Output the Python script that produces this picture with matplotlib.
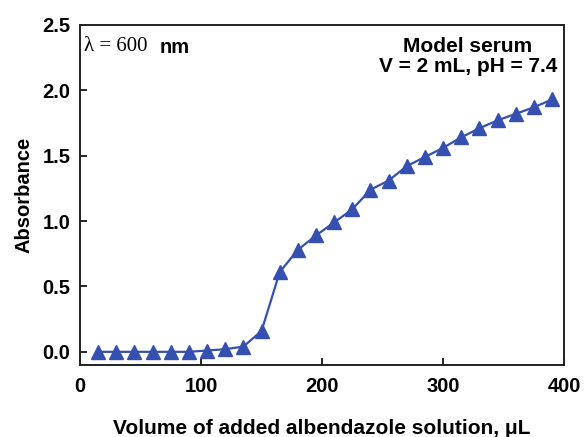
import matplotlib
matplotlib.use("Agg")
import matplotlib.pyplot as plt

plt.rcParams['font.family'] = ['Liberation Sans', 'DejaVu Sans']
plt.rcParams['font.weight'] = 'bold'

volume = [15, 30, 45, 60, 75, 90, 105, 120, 135, 150, 165, 180, 195,
          210, 225, 240, 255, 270, 285, 300, 315, 330, 345, 360, 375, 390]
absorbance = [0.00, 0.00, 0.00, 0.00, 0.00, 0.00, 0.01, 0.02, 0.04, 0.16,
              0.61, 0.78, 0.89, 0.99, 1.09, 1.24, 1.31, 1.42, 1.49, 1.56,
              1.64, 1.71, 1.77, 1.82, 1.87, 1.93]

blue = '#3550b0'

fig = plt.figure(figsize=(5.84, 4.37), dpi=100)
ax = fig.add_axes([0.137, 0.165, 0.829, 0.778])

ax.plot(volume, absorbance, color=blue, lw=1.6, marker='^', ms=10,
        markerfacecolor=blue, markeredgecolor=blue)

ax.set_xlim(0, 400)
ax.set_ylim(-0.1, 2.5)
ax.set_xticks([0, 100, 200, 300, 400])
ax.set_yticks([0.0, 0.5, 1.0, 1.5, 2.0, 2.5])
ax.set_yticklabels(['0.0', '0.5', '1.0', '1.5', '2.0', '2.5'])
ax.tick_params(direction='in', length=5, width=1.2, labelsize=14.5, pad=9)
ax.tick_params(axis='y', pad=7)
for lab in ax.get_xticklabels() + ax.get_yticklabels():
    lab.set_fontweight('bold')
for s in ax.spines.values():
    s.set_linewidth(1.4)
    s.set_color('#222222')

ax.set_xlabel('Volume of added albendazole solution, \u03bcL', fontsize=15,
              fontweight='bold', labelpad=16)
ax.set_ylabel('Absorbance', fontsize=14.5, fontweight='bold', labelpad=6)

ax.text(0.008, 0.965, '\u03bb = 600', transform=ax.transAxes, fontsize=15,
        family=['Liberation Serif', 'DejaVu Serif'], fontweight='normal',
        va='top', ha='left')
ax.text(0.165, 0.962, 'nm', transform=ax.transAxes, fontsize=14.5,
        fontweight='bold', va='top', ha='left')
ax.text(0.985, 0.965, 'Model serum\nV = 2 mL, pH = 7.4', transform=ax.transAxes,
        fontsize=15, fontweight='bold', va='top', ha='right',
        multialignment='center', linespacing=1.1)

fig.savefig('out.png', dpi=100)
